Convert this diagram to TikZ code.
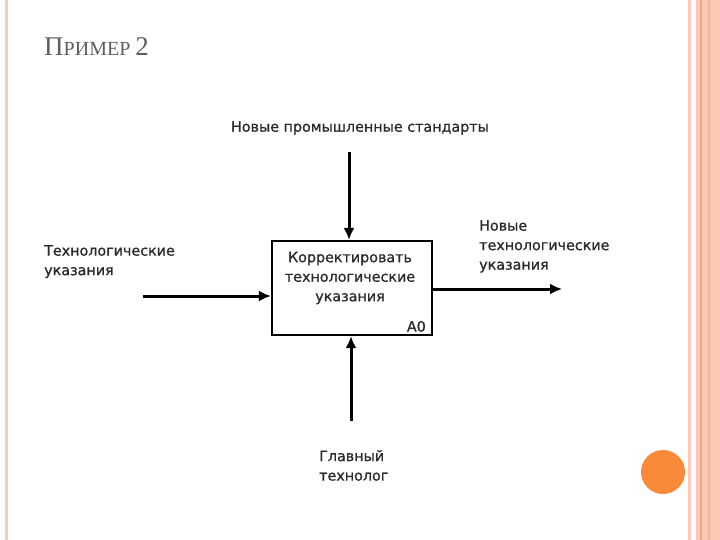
\documentclass[tikz,border=0pt]{standalone}
\usepackage{fontspec}
\setmainfont{Liberation Serif}
\newfontfamily\diagfont[FakeBold=0.8]{DejaVu Sans}
\usetikzlibrary{arrows.meta}
\definecolor{salmon}{HTML}{FAC8B4}
\definecolor{salmondark}{HTML}{F0A688}
\definecolor{orangedot}{HTML}{F98A3A}
\definecolor{titlegray}{HTML}{5F5F5F}
\definecolor{txtgray}{HTML}{2A2A2A}
\tikzset{
  lbl/.style={font=\diagfont\fontsize{14.3}{19.5}\selectfont, text=txtgray, inner sep=0pt},
  flow/.style={line width=3pt, -{Latex[length=12pt,width=11pt]}},
  act/.style={draw, line width=2.2pt, minimum width=160pt, minimum height=94pt, inner sep=0pt}
}
\begin{document}
\begin{tikzpicture}[x=1pt,y=-1pt]
\useasboundingbox (0,0) rectangle (720,540);
\fill[white] (0,0) rectangle (720,540);
% decorative frame
\fill[salmon] (5,0) rectangle (8,540);
\fill[salmon] (688,0) rectangle (691,540);
\fill[salmon] (696,0) rectangle (720,540);
\fill[salmondark] (700,0) rectangle (702,540);
\fill[salmondark!60!salmon] (708,0) rectangle (709.5,540);
\fill[orangedot] (663,472) circle (22);
% title
\node[anchor=base west, text=titlegray, inner sep=0pt] (title) at (44,56)
  {\fontsize{27}{30}\selectfont П\fontsize{20}{30}\selectfont РИМЕР \fontsize{27}{30}\selectfont 2};
% box
\node[act] (box) at (352,288) {};
\node[lbl, align=center] (boxtxt) at (350,278) {Корректировать\\технологические\\указания};
\node[lbl, anchor=south east] (a0) at (426,332) {A0};
% control
\node[lbl] (ctrl) at (360,128) {Новые промышленные стандарты};
\coordinate (ctrlS) at (349,152);
\draw[flow] (ctrlS) -- (ctrlS |- box.north);
% input
\node[lbl, anchor=north west, align=left] (inp) at (44,245) {Технологические\\указания};
\coordinate (inS) at (143,296);
\draw[flow] (inS) -- (inS -| box.west);
% output
\node[lbl, anchor=north west, align=left] (out) at (479,220) {Новые\\технологические\\указания};
\coordinate (outE) at (562,289);
\draw[flow] (outE -| box.east) -- (outE);
% mechanism
\node[lbl, anchor=north west, align=left] (mech) at (319,450) {Главный\\технолог};
\coordinate (mechS) at (351,421);
\draw[flow] (mechS) -- (mechS |- box.south);
\end{tikzpicture}
\end{document}
